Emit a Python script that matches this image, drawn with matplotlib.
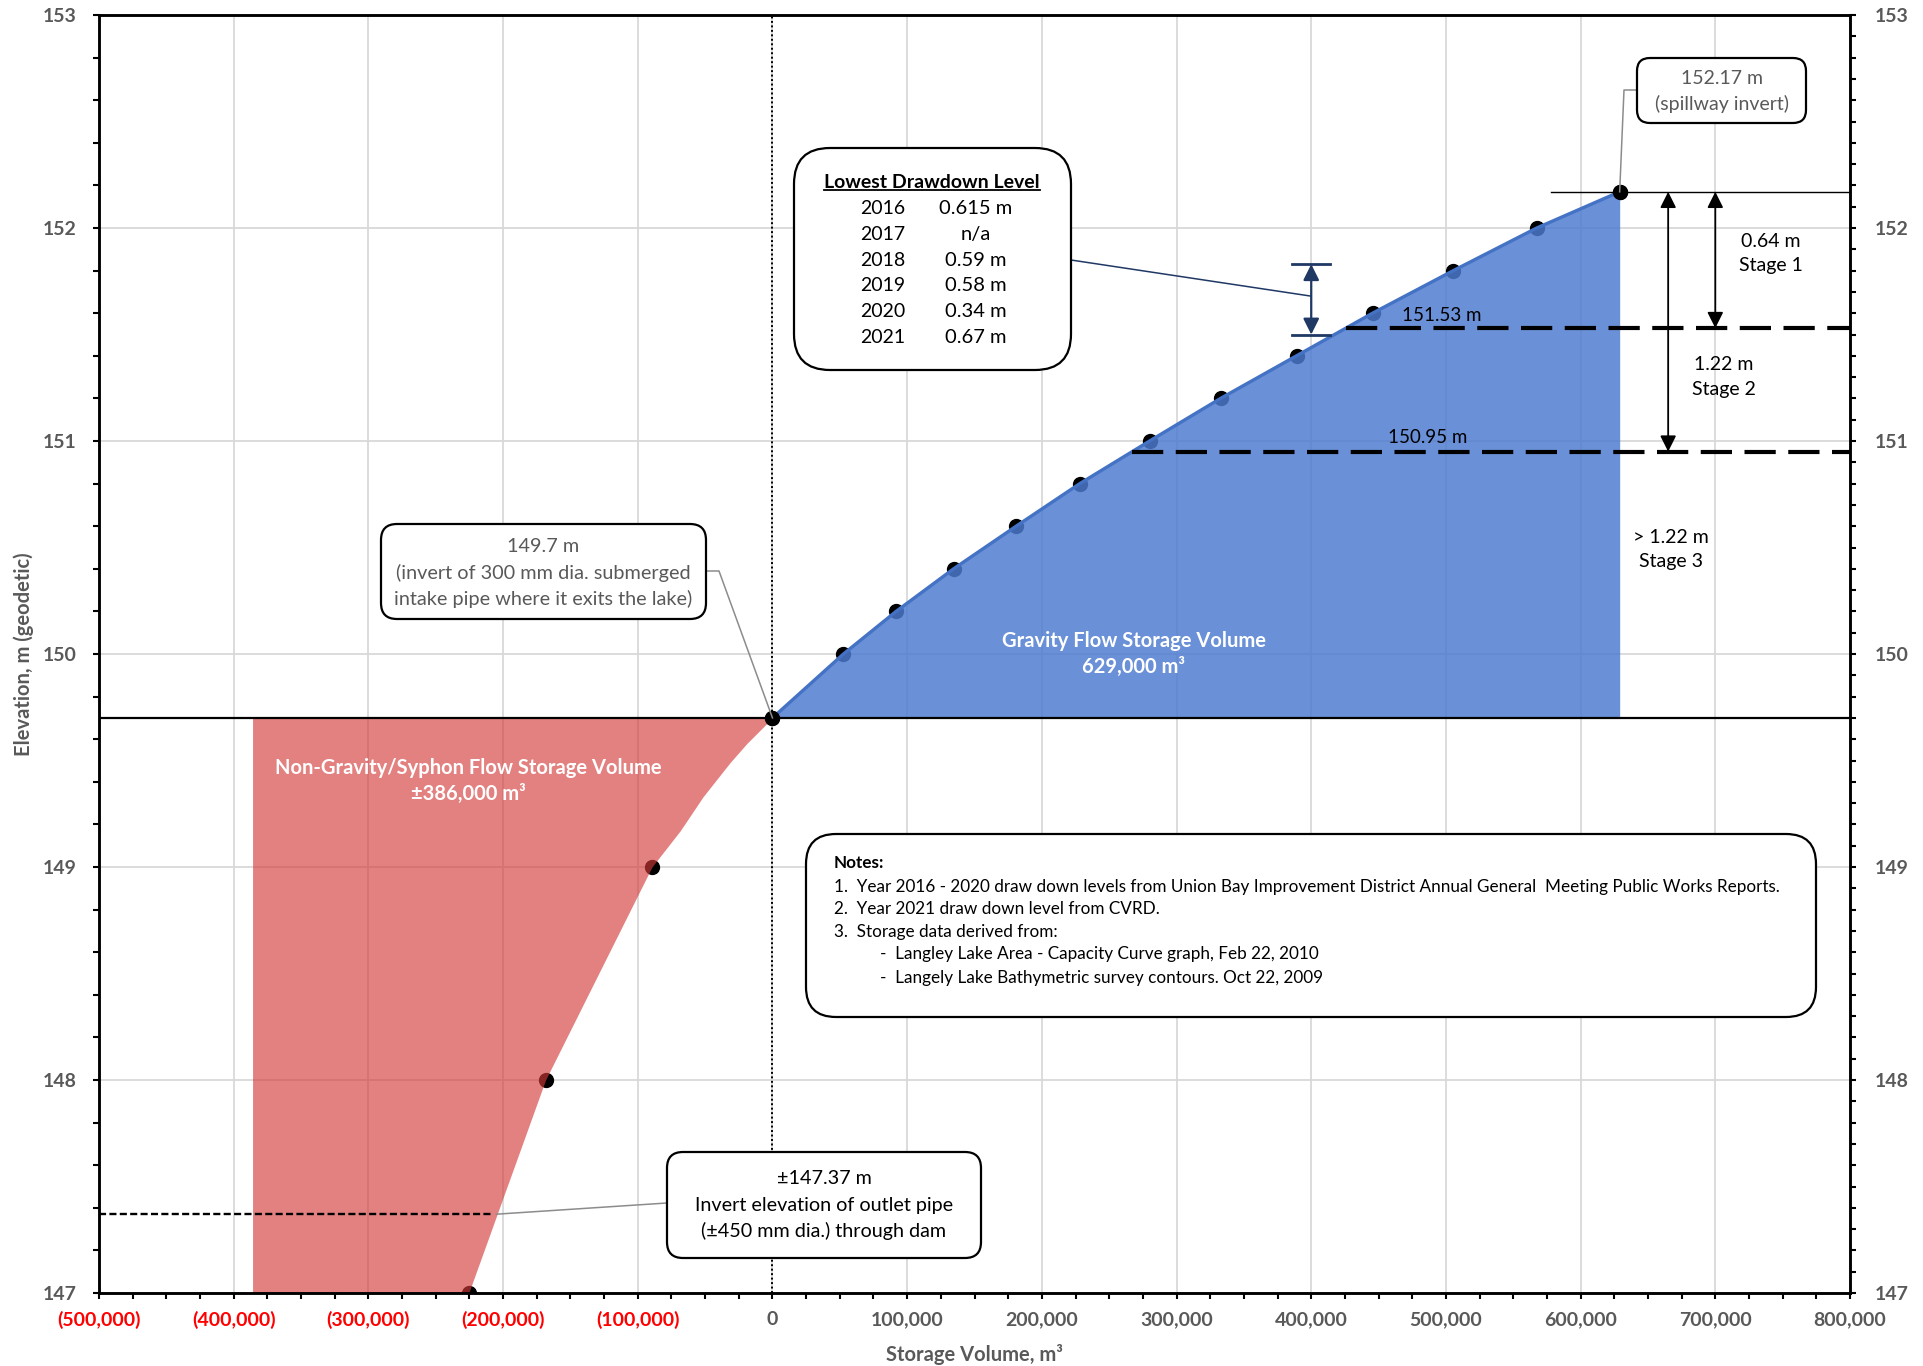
import numpy as np
import matplotlib
matplotlib.use("Agg")
import matplotlib.pyplot as plt
import matplotlib.transforms as mtransforms
from matplotlib.patches import FancyBboxPatch
from matplotlib.lines import Line2D
from matplotlib.ticker import MultipleLocator

plt.rcParams['font.family'] = ['Lato', 'DejaVu Sans']

# ---------------- data ----------------
# Gravity-flow storage curve (above the intake invert)
gravity_volume = [0, 52700, 91800, 134500, 180900, 228200, 280000, 332700,
                  389100, 445500, 505500, 567400, 629000]
gravity_elev = [149.7, 150.0, 150.2, 150.4, 150.6, 150.8, 151.0, 151.2,
                151.4, 151.6, 151.8, 152.0, 152.17]

# Non-gravity / syphon storage curve (below the intake invert)
syphon_volume = [0, -19000, -31500, -51500, -68500, -89500, -168500, -225500]
syphon_elev = [149.7, 149.58, 149.49, 149.33, 149.17, 149.0, 148.0, 147.0]
syphon_marker_volume = [-89500, -168500, -225500]
syphon_marker_elev = [149.0, 148.0, 147.0]

gravity_storage = 629000
syphon_storage = 386000

intake_invert = 149.7
spillway_invert = 152.17
stage1_level = 151.53
stage2_level = 150.95
outlet_invert = 147.37

drawdown_years = ['2016', '2017', '2018', '2019', '2020', '2021']
drawdown_depth = [0.615, None, 0.59, 0.58, 0.34, 0.67]

x_ticks = list(range(-500000, 800001, 100000))
y_ticks = [147, 148, 149, 150, 151, 152, 153]

notes_lines = [
    "1.  Year 2016 - 2020 draw down levels from Union Bay Improvement District Annual General  Meeting Public Works Reports.",
    "2.  Year 2021 draw down level from CVRD.",
    "3.  Storage data derived from:",
]
notes_sub = [
    "-  Langley Lake Area - Capacity Curve graph, Feb 22, 2010",
    "-  Langely Lake Bathymetric survey contours. Oct 22, 2009",
]

# ---------------- styling ----------------
GREY = '#595959'
GRID = '#d9d9d9'
NAVY = '#1f3864'
BLUE_LINE = '#4472c4'
BLUE_FILL = '#4d7bd0'
RED_FILL = '#d43a3a'
TICK_FS = 14

W, H = 1923, 1366
fig = plt.figure(figsize=(W / 100, H / 100), dpi=100)
ax = fig.add_axes([99 / W, (H - 1293) / H, (1850 - 99) / W, (1293 - 15) / H])
ax.set_xlim(-500000, 800000)
ax.set_ylim(147, 153)

# top-left pixel frame used for the annotation boxes
PX = mtransforms.Affine2D().scale(1, -1).translate(0, H)
DISP = mtransforms.IdentityTransform()

# grid
for v in x_ticks:
    ax.axvline(v, color=GRID, lw=1.3, zorder=0.5)
for v in y_ticks:
    ax.axhline(v, color=GRID, lw=1.3, zorder=0.5)

# markers (drawn beneath the translucent storage fills)
ax.plot(gravity_volume, gravity_elev, 'o', color='black', ms=10, zorder=2)
ax.plot(syphon_marker_volume, syphon_marker_elev, 'o', color='black', ms=10, zorder=2)

# storage volumes
ax.fill_betweenx(syphon_elev, -syphon_storage, syphon_volume,
                 color=RED_FILL, alpha=0.64, lw=0, zorder=3)
ax.fill_betweenx(gravity_elev, gravity_volume, gravity_storage,
                 color=BLUE_FILL, alpha=0.84, lw=0, zorder=3)
ax.plot(gravity_volume, gravity_elev, '-', color=BLUE_LINE, lw=2.4, zorder=4)
ax.plot([0], [intake_invert], 'o', color='black', ms=10, zorder=7)
ax.plot([gravity_volume[-1]], [gravity_elev[-1]], 'o', color='black', ms=10, zorder=7)

# reference lines
ax.axhline(intake_invert, color='black', lw=1.6, zorder=6)
ax.axvline(0, color='black', lw=1.4, ls=(0, (1, 1.3)), zorder=6)
ax.plot([578000, 800000], [spillway_invert] * 2, color='black', lw=1.0, zorder=6)
for lvl in (stage1_level, stage2_level):
    x0 = np.interp(lvl, gravity_elev, gravity_volume)
    ax.plot([x0, 800000], [lvl, lvl], color='black', lw=3, ls=(0, (7.5, 3)),
            zorder=6)
ax.plot([-500000, -209000], [outlet_invert] * 2, color='black', lw=1.7,
        ls=(0, (3, 1.4)), zorder=6)

ax.text(497000, 151.59, f"{stage1_level:.2f} m", ha='center', va='center',
        fontsize=13.5, zorder=7)
ax.text(486400, 151.015, f"{stage2_level:.2f} m", ha='center', va='center',
        fontsize=13.5, zorder=7)

# stage arrows
arrow_kw = dict(arrowstyle='<|-|>', color='black', lw=1.3, mutation_scale=24,
                shrinkA=0, shrinkB=0)
ax.annotate('', xy=(700000, stage1_level), xytext=(700000, spillway_invert),
            arrowprops=arrow_kw, zorder=7)
ax.annotate('', xy=(665000, stage2_level), xytext=(665000, spillway_invert),
            arrowprops=arrow_kw, zorder=7)
stage_kw = dict(ha='center', va='center', fontsize=14, linespacing=1.55, zorder=7)
ax.text(741000, 151.88, f"{spillway_invert - stage1_level:.2f} m\nStage 1", **stage_kw)
ax.text(706500, 151.30, f"{spillway_invert - stage2_level:.2f} m\nStage 2", **stage_kw)
ax.text(667000, 150.49, f"> {spillway_invert - stage2_level:.2f} m\nStage 3", **stage_kw)

# drawdown range arrow
recorded = [d for d in drawdown_depth if d is not None]
dd_top = spillway_invert - min(recorded)
dd_bot = spillway_invert - max(recorded)
ax.annotate('', xy=(400000, dd_bot), xytext=(400000, dd_top),
            arrowprops=dict(arrowstyle='<|-|>', color=NAVY, lw=1.6,
                            mutation_scale=24, shrinkA=0, shrinkB=0), zorder=7)
for lvl in (dd_top, dd_bot):
    ax.plot([386000, 414000], [lvl, lvl], color=NAVY, lw=2, zorder=7)

# fill labels
fill_kw = dict(transform=PX, ha='center', va='center', color='white',
               fontsize=14.5, fontweight='bold', zorder=9)
fig.text(1134, 641, "Gravity Flow Storage Volume", **fill_kw)
fig.text(1134, 667, f"{gravity_storage:,} m³", **fill_kw)
fig.text(468, 768, "Non-Gravity/Syphon Flow Storage Volume", **fill_kw)
fig.text(468, 794, f"±{syphon_storage:,} m³", **fill_kw)

# axes styling
for side in ('left', 'bottom', 'right', 'top'):
    ax.spines[side].set_linewidth(1.8)
    ax.spines[side].set_zorder(8)
ax.set_xticks(x_ticks)
ax.set_xticklabels([f"({abs(v):,})" if v < 0 else f"{v:,}" for v in x_ticks])
ax.xaxis.set_minor_locator(MultipleLocator(25000))
ax.set_yticks(y_ticks)
ax.set_yticklabels([str(v) for v in y_ticks])
ax.yaxis.set_minor_locator(MultipleLocator(0.2))
ax.tick_params(axis='both', which='both', direction='out', width=1.5, length=4,
               labelsize=TICK_FS)
ax.tick_params(axis='x', pad=9)
ax.tick_params(axis='y', pad=12, labelcolor=GREY)
ax.set_xlabel("Storage Volume, m³", fontsize=14.5, fontweight='bold', color=GREY)
ax.set_ylabel("Elevation, m (geodetic)", fontsize=14.5, fontweight='bold',
              color=GREY)
ax.xaxis.set_label_coords(0.5, -0.040)
ax.yaxis.set_label_coords(-0.037, 0.5)

axr = ax.twinx()
axr.set_ylim(147, 153)
axr.set_yticks(y_ticks)
axr.set_yticklabels([str(v) for v in y_ticks])
axr.yaxis.set_minor_locator(MultipleLocator(0.1))
axr.tick_params(axis='y', which='both', direction='out', width=1.5, length=4,
                pad=14, labelsize=TICK_FS, labelcolor=GREY)
for side in ('left', 'bottom', 'right', 'top'):
    axr.spines[side].set_linewidth(1.8)

# bold tick labels; negative volumes in red
for t, v in zip(ax.xaxis.get_major_ticks(), x_ticks):
    t.label1.set_fontweight('bold')
    t.label1.set_color('red' if v < 0 else GREY)
for t in ax.yaxis.get_major_ticks():
    t.label1.set_fontweight('bold')
for t in axr.yaxis.get_major_ticks():
    t.label2.set_fontweight('bold')


# ---------------- annotation boxes ----------------
def box(x0, y0, x1, y1, r):
    p = FancyBboxPatch((x0, H - y1), x1 - x0, y1 - y0,
                       boxstyle=f"round,pad=0,rounding_size={r}",
                       transform=DISP, fc='white', ec='black', lw=1.6, zorder=8)
    fig.add_artist(p)


def leader(points_px, data_pt, color):
    xs = [p[0] for p in points_px]
    ys = [H - p[1] for p in points_px]
    dx, dy = ax.transData.transform(data_pt)
    fig.add_artist(Line2D(xs + [dx], ys + [dy], transform=DISP, color=color,
                          lw=1.1, zorder=7.5))


# drawdown table
box(794, 148, 1071, 370, 36)
leader([(1071, 260)], (400000, 151.68), NAVY)
title = fig.text(932, 182, "Lowest Drawdown Level", transform=PX, ha='center',
                 va='center', fontsize=14, fontweight='bold', zorder=9)
renderer = fig.canvas.get_renderer()
bb = title.get_window_extent(renderer=renderer)
fig.add_artist(Line2D([bb.x0, bb.x1], [bb.y0 + 1, bb.y0 + 1], transform=DISP,
                      color='black', lw=1.3, zorder=9))
row_y = [208.5, 234.2, 260, 285.8, 311.5, 337.3]
for yr, d, yy in zip(drawdown_years, drawdown_depth, row_y):
    fig.text(883, yy, yr, transform=PX, ha='center', va='center',
             fontsize=14, zorder=9)
    fig.text(976, yy, "n/a" if d is None else f"{d:g} m", transform=PX,
             ha='center', va='center', fontsize=14.5, zorder=9)

# spillway
box(1637, 58, 1806, 123, 13)
leader([(1637, 90), (1624, 90)], (gravity_volume[-1], spillway_invert), '#8c8c8c')
fig.text(1722, 78.5, f"{spillway_invert:.2f} m", transform=PX, ha='center',
         va='center', fontsize=14, color=GREY, zorder=9)
fig.text(1722, 104, "(spillway invert)", transform=PX, ha='center',
         va='center', fontsize=14, color=GREY, zorder=9)

# intake
box(381, 524, 706, 619, 16)
leader([(706, 571), (719, 571)], (0, intake_invert), '#8c8c8c')
for s, yy in zip([f"{intake_invert} m", "(invert of 300 mm dia. submerged",
                  "intake pipe where it exits the lake)"], [546, 572.7, 598.5]):
    fig.text(543, yy, s, transform=PX, ha='center', va='center',
             fontsize=14.3, color=GREY, zorder=9)

# outlet
box(667, 1152, 981, 1258, 16)
leader([(667, 1203)], (-205000, outlet_invert), '#8c8c8c')
for s, yy in zip([f"±{outlet_invert} m", "Invert elevation of outlet pipe",
                  "(±450 mm dia.) through dam"], [1178.6, 1205.5, 1231.3]):
    fig.text(824, yy, s, transform=PX, ha='center', va='center',
             fontsize=14.2, color='black', zorder=9)

# notes
box(806, 834, 1816, 1017, 30)
fig.text(834, 863, "Notes:", transform=PX, ha='left', va='center',
         fontsize=12.3, fontweight='bold', zorder=9)
for s, yy in zip(notes_lines, [887, 909, 932]):
    fig.text(834, yy, s, transform=PX, ha='left', va='center', fontsize=12.3,
             zorder=9)
for s, yy in zip(notes_sub, [954, 977.5]):
    fig.text(880, yy, s, transform=PX, ha='left', va='center', fontsize=12.3,
             zorder=9)

fig.savefig("out.png", dpi=100)
